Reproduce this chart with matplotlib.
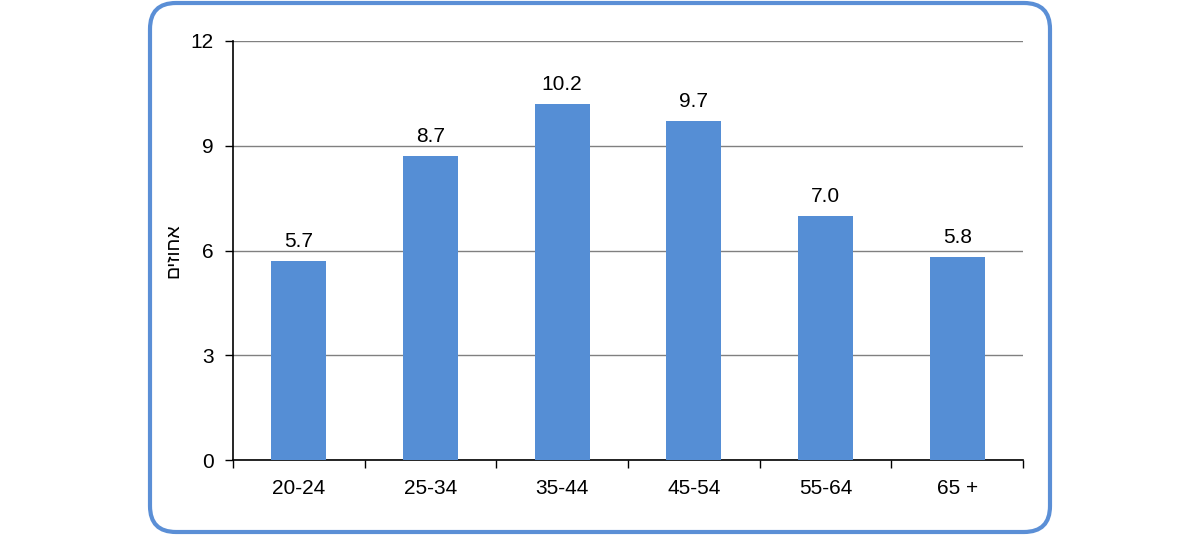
import numpy as np
import matplotlib.pyplot as plt
from matplotlib.patches import FancyBboxPatch

ages = ["20-24", "25-34", "35-44", "45-54", "55-64", "65 +"]
values = [5.7, 8.7, 10.2, 9.7, 7.0, 5.8]
yticks = [0, 3, 6, 9, 12]

plt.rcParams['font.family'] = ['Liberation Sans', 'DejaVu Sans']
plt.rcParams['font.size'] = 15

fig = plt.figure(figsize=(12, 5.35), dpi=100)
ax = fig.add_axes([233 / 1200, 75 / 535, 790 / 1200, 419 / 535])

x = np.arange(len(ages))
ax.bar(x, values, width=0.42, color='#558ED5', zorder=3)
for xi, v in zip(x, values):
    ax.annotate(f"{v:.1f}", (xi, v), xytext=(0, 14), textcoords='offset pixels',
                ha='center', va='baseline', fontsize=15)

ax.set_xlim(-0.5, len(ages) - 0.5)
ax.set_ylim(0, 12)
ax.set_yticks(yticks)
ax.set_yticklabels([str(t) for t in yticks])
ax.yaxis.grid(True, color='#808080', linewidth=1, zorder=0)
ax.tick_params(axis='y', length=6, width=1, pad=8, labelsize=15)

ax.set_xticks(x)
ax.set_xticklabels(ages)
ax.tick_params(axis='x', which='major', length=0, pad=14, labelsize=15)
ax.set_xticks(np.arange(len(ages) + 1) - 0.5, minor=True)
ax.tick_params(axis='x', which='minor', length=6, width=1)

for s in ['top', 'right']:
    ax.spines[s].set_visible(False)
for s in ['left', 'bottom']:
    ax.spines[s].set_linewidth(1.2)

# Hebrew label, reversed for left-to-right rendering
ax.set_ylabel("םיזוחא", fontsize=14, labelpad=6)

border = FancyBboxPatch((164, 17), 872, 501, boxstyle="round,pad=14,rounding_size=26",
                        transform=None, facecolor='none', edgecolor='#5B8FD6',
                        linewidth=3, zorder=10)
fig.patches.append(border)

fig.savefig("out.png", dpi=100)
